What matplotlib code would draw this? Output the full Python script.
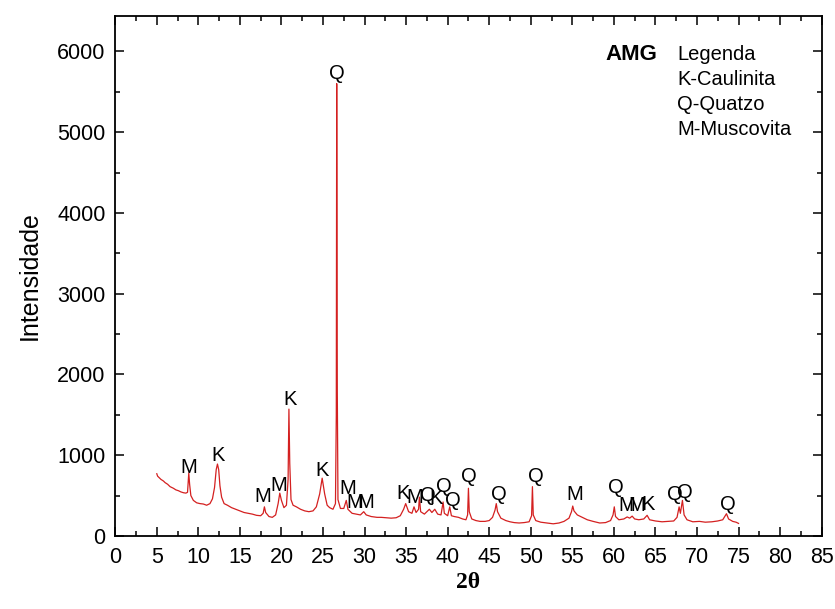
import matplotlib
matplotlib.use('Agg')
import matplotlib.pyplot as plt

# diffractogram trace (2theta, counts)
two_theta = [5.0, 5.1, 5.3, 5.5, 5.8, 6.0, 6.3, 6.6, 7.0, 7.3, 7.6, 7.9, 8.2, 8.5, 8.7,
             8.85, 8.95, 9.1, 9.4, 9.8, 10.2, 10.6, 11.0, 11.4, 11.7, 11.95, 12.15, 12.3,
             12.45, 12.6, 12.8, 13.1, 13.5, 14.0, 14.5, 15.0, 15.5, 16.0, 16.5, 17.0, 17.5,
             17.8, 17.95, 18.1, 18.5, 18.9, 19.3, 19.6, 19.8, 20.0, 20.3, 20.6, 20.8, 20.9,
             21.0, 21.15, 21.4, 21.8, 22.3, 22.8, 23.3, 23.8, 24.2, 24.6, 24.9, 25.2, 25.5,
             25.8, 26.2, 26.5, 26.6, 26.65, 26.72, 26.8, 27.1, 27.5, 27.8, 28.0, 28.5, 29.0,
             29.5, 29.9, 30.2, 30.8, 31.5, 32.0, 32.6, 33.2, 33.8, 34.3, 34.7, 34.95, 35.3,
             35.7, 35.95, 36.2, 36.5, 36.6, 36.75, 37.2, 37.8, 38.1, 38.45, 38.8, 39.2, 39.45,
             39.6, 40.0, 40.25, 40.45, 40.8, 41.3, 41.8, 42.2, 42.4, 42.5, 42.6, 42.9, 43.4,
             43.9, 44.5, 45.0, 45.4, 45.7, 45.85, 46.0, 46.4, 47.0, 47.5, 48.0, 48.6, 49.2,
             49.8, 50.1, 50.2, 50.3, 50.6, 51.2, 52.0, 52.7, 53.4, 54.0, 54.6, 54.9, 55.05,
             55.2, 55.6, 56.2, 56.8, 57.5, 58.3, 59.0, 59.6, 59.9, 60.05, 60.2, 60.6, 61.2,
             61.6, 61.9, 62.2, 62.5, 63.0, 63.6, 64.0, 64.3, 65.0, 65.8, 66.5, 67.2, 67.6,
             67.85, 68.0, 68.25, 68.45, 68.8, 69.5, 70.3, 71.0, 71.8, 72.5, 73.1, 73.55,
             73.8, 74.3, 74.7, 75.0]
intensity = [770, 740, 720, 700, 680, 660, 640, 610, 590, 570, 560, 545, 535, 530, 540,
             780, 640, 500, 440, 410, 400, 395, 380, 400, 460, 600, 820, 890,
             820, 620, 480, 400, 380, 350, 330, 310, 290, 280, 270, 255, 250,
             280, 360, 290, 240, 230, 260, 400, 530, 440, 350, 380, 700, 1570,
             900, 450, 380, 360, 330, 310, 300, 310, 360, 520, 715, 520, 380,
             350, 330, 400, 1500, 5600, 1800, 450, 340, 340, 440, 330, 280, 270,
             260, 300, 260, 240, 230, 230, 225, 220, 225, 250, 330, 400, 300,
             280, 360, 290, 330, 480, 300, 270, 330, 290, 330, 270, 260, 420,
             280, 250, 360, 250, 240, 230, 210, 200, 260, 590, 300, 210, 190,
             180, 180, 190, 230, 320, 400, 300, 220, 190, 175, 165, 160, 165,
             175, 250, 610, 260, 190, 170, 160, 150, 160, 180, 220, 300, 370,
             310, 260, 230, 200, 180, 160, 165, 190, 260, 360, 240, 200, 210,
             235, 220, 245, 210, 200, 210, 255, 200, 185, 175, 180, 185, 230,
             360, 280, 440, 260, 200, 175, 180, 170, 175, 185, 200, 275,
             210, 180, 170, 155]

# phase labels: text, 2theta, height
peak_labels = ['M', 'K', 'M', 'M', 'K', 'K', 'Q', 'M', 'M', 'M',
               'K', 'M', 'Q', 'K', 'Q', 'Q', 'Q', 'Q', 'Q', 'M',
               'Q', 'M', 'M', 'K', 'Q', 'Q', 'Q']
label_x = [8.88, 12.37, 17.8, 19.7, 21.0, 24.9, 26.7, 28.0, 28.8, 30.2,
           34.6, 36.0, 37.6, 38.6, 39.6, 40.6, 42.5, 46.2, 50.6, 55.3,
           60.2, 61.5, 62.7, 64.1, 67.3, 68.5, 73.7]
label_y = [847, 1000, 483, 628, 1690, 805, 5720, 590, 410, 410,
           530, 480, 505, 465, 615, 440, 730, 517, 740, 517,
           600, 380, 380, 392, 517, 533, 392]

legend_lines = ['Legenda', 'K-Caulinita', 'Q-Quatzo', 'M-Muscovita']

plt.rcParams['font.family'] = ['Liberation Sans', 'DejaVu Sans']

fig = plt.figure(figsize=(8.35, 6.09), dpi=100)
ax = fig.add_axes([0.138, 0.12, 0.846, 0.854])

ax.plot(two_theta, intensity, color='#d42020', lw=0.9)

for t, x, y in zip(peak_labels, label_x, label_y):
    ax.text(x, y, t, ha='center', va='center', fontsize=14.5)

ax.text(62.15, 5957, 'AMG', ha='center', va='center', fontsize=16, fontweight='bold')
for i, s in enumerate(legend_lines):
    ax.text(67.6, 5957 - i * 310, s, ha='left', va='center', fontsize=14.5)

ax.set_xlim(0, 85)
ax.set_ylim(0, 6440)
ax.set_xticks(range(0, 90, 5))
ax.set_xticks([2.5 + 5 * i for i in range(17)], minor=True)
ax.set_yticks(range(0, 7000, 1000))
ax.set_yticks(range(500, 6500, 1000), minor=True)

ax.tick_params(which='both', direction='in', top=True, right=True, width=1.1)
ax.tick_params(which='major', length=6.5, labelsize=15.5)
ax.tick_params(which='minor', length=3.6)
ax.tick_params(axis='y', pad=7)
ax.tick_params(axis='x', pad=8)
for sp in ax.spines.values():
    sp.set_linewidth(1.3)

ax.set_ylabel('Intensidade', fontsize=18, labelpad=11)
ax.set_xlabel('2θ', fontsize=17, family='Liberation Serif', fontweight='bold', labelpad=3)

fig.savefig('out.png', dpi=100)
